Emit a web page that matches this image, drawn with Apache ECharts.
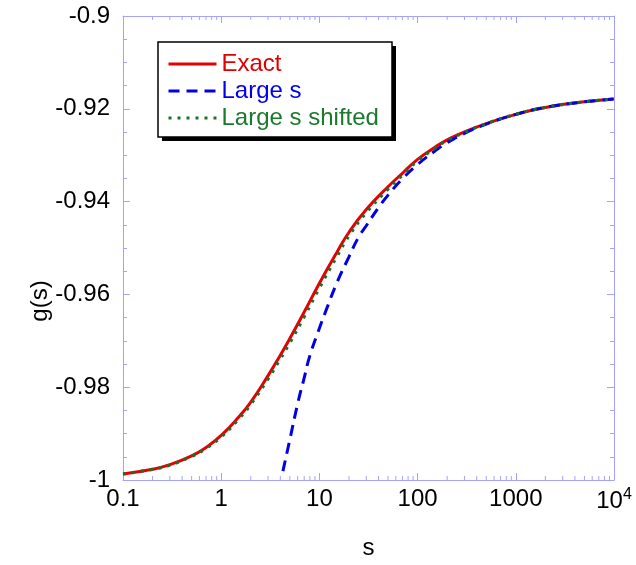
<!DOCTYPE html>
<html>
<head>
<meta charset="utf-8">
<script src="https://cdn.jsdelivr.net/npm/echarts@6/dist/echarts.min.js"></script>
<style>
  html, body { margin: 0; padding: 0; background: #ffffff; }
  #chart { width: 636px; height: 565px; }
</style>
</head>
<body>
<div id="chart"></div>
<script>
// Exact solution g(s)
const sExact = [0.1, 0.2, 0.3, 0.5, 0.7, 1, 1.5, 2, 3, 4, 5, 7, 10, 15, 20, 30, 50, 70, 100, 150, 200, 300, 500, 1000, 2000, 5000, 10000];
const gExact = [-0.9987, -0.9977, -0.9967, -0.9948, -0.9930, -0.9904, -0.9865, -0.9832, -0.9775, -0.9731, -0.9695, -0.9638, -0.9576, -0.9510, -0.9466, -0.9417, -0.9368, -0.9339, -0.9309, -0.9283, -0.9267, -0.9250, -0.9232, -0.9212, -0.9197, -0.9185, -0.9179];

// Large-s asymptotic expansion
const sLarge = [4.25, 5, 6, 7, 8, 10, 12, 15, 20, 25, 30, 40, 50, 70, 100, 150, 200, 300, 500, 1000, 2000, 5000, 10000];
const gLarge = [-0.9981, -0.9913, -0.9836, -0.9780, -0.9732, -0.9673, -0.9628, -0.9576, -0.9519, -0.9477, -0.9452, -0.9413, -0.9386, -0.9351, -0.9320, -0.9291, -0.9273, -0.9253, -0.9233, -0.9212, -0.9197, -0.9185, -0.9179];

// Large-s expansion, shifted
const sShift = [0.1, 0.2, 0.3, 0.5, 0.7, 1, 1.5, 2, 3, 4, 5, 7, 10, 15, 20, 30, 50, 70, 100, 150, 200, 300, 500, 1000, 2000, 5000, 10000];
const gShift = [-0.9987, -0.9977, -0.9968, -0.9949, -0.9932, -0.9907, -0.9869, -0.9837, -0.9782, -0.9739, -0.9704, -0.9648, -0.9586, -0.9519, -0.9474, -0.9424, -0.9373, -0.9343, -0.9312, -0.9285, -0.9268, -0.9251, -0.9232, -0.9212, -0.9197, -0.9185, -0.9179];

// Axis ticks
const xTickValues = [0.1, 1, 10, 100, 1000, 10000];
const xTickLabels = ['0.1', '1', '10', '100', '1000', '10{sup|4}'];
const yMin = -1, yMax = -0.9, yStep = 0.02;

const axisColor = '#a3a3ff';
const font = 'Liberation Sans, Arial, sans-serif';
const fontSize = 24;
const red = '#e80000', blue = '#0000e6', green = '#1c6f26';

// log-axis minor tick positions: 2..9 within each decade
const minorTicks = [];
for (let d = 0; d < xTickValues.length - 1; d++) {
  for (let m = 2; m <= 9; m++) minorTicks.push([xTickValues[d] * m, yMin]);
}

function pairs(xs, ys) { return xs.map((x, i) => [x, ys[i]]); }

function xLabel(v) {
  for (let i = 0; i < xTickValues.length; i++) {
    if (Math.abs(Math.log10(v) - Math.log10(xTickValues[i])) < 1e-6) return xTickLabels[i];
  }
  return '';
}

const chart = echarts.init(document.getElementById('chart'), null, { renderer: 'canvas' });

const xBase = {
  type: 'log', logBase: 10, min: 0.1, max: 10000,
  splitLine: { show: false },
  axisLine: { show: true, onZero: false, lineStyle: { color: axisColor, width: 1 } },
  axisTick: { show: true, inside: true, length: 7, lineStyle: { color: axisColor } },
  minorTick: { show: false }
};
const yBase = {
  type: 'value', min: yMin, max: yMax, interval: yStep,
  splitLine: { show: false },
  axisLine: { show: true, onZero: false, lineStyle: { color: axisColor, width: 1 } },
  axisTick: { show: true, inside: true, length: 7, lineStyle: { color: axisColor } },
  minorTick: { show: true, splitNumber: 4, length: 4, lineStyle: { color: axisColor } }
};

// legend frame with its drop shadow
const box = { x: 158, y: 42, w: 234, h: 95, shadow: 4 };

chart.setOption({
  backgroundColor: '#ffffff',
  animation: false,
  grid: { left: 123, right: 22, top: 16, bottom: 84, containLabel: false },
  xAxis: [
    Object.assign({}, xBase, {
      position: 'bottom',
      name: 's', nameLocation: 'middle', nameGap: 56,
      nameTextStyle: { fontSize: fontSize, color: '#000', fontFamily: font },
      axisLabel: {
        show: true, margin: 7, color: '#000', fontSize: fontSize, fontFamily: font,
        formatter: xLabel,
        rich: { sup: { fontSize: 16, fontFamily: font, color: '#000', padding: [0, 0, 12, 0] } }
      }
    }),
    Object.assign({}, xBase, { position: 'top', axisLabel: { show: false } })
  ],
  yAxis: [
    Object.assign({}, yBase, {
      position: 'left',
      axisLabel: {
        show: true, margin: 13, color: '#000', fontSize: fontSize, fontFamily: font,
        formatter: v => String(Number(v.toFixed(2)))
      }
    }),
    Object.assign({}, yBase, { position: 'right', axisLabel: { show: false } })
  ],
  legend: {
    left: box.x, top: box.y, orient: 'vertical',
    itemWidth: 48, itemHeight: 20, itemGap: 3,
    padding: [10, 10, 7, 9],
    backgroundColor: 'transparent', borderWidth: 0,
    itemStyle: { opacity: 0 },
    lineStyle: { width: 3 },
    textStyle: { fontSize: fontSize, fontFamily: font },
    z: 10,
    data: [
      { name: 'Exact', textStyle: { color: '#e00000' } },
      { name: 'Large s', textStyle: { color: '#0000ee' } },
      { name: 'Large s shifted', textStyle: { color: '#1a7a2c' } }
    ]
  },
  graphic: [
    {
      type: 'rect', z: 8,
      shape: { x: box.x + box.shadow, y: box.y + box.shadow, width: box.w, height: box.h },
      style: { fill: '#000000' }
    },
    {
      type: 'rect', z: 9,
      shape: { x: box.x, y: box.y, width: box.w, height: box.h },
      style: { fill: '#ffffff', stroke: '#000000', lineWidth: 1.5 }
    },
    {
      type: 'text', x: 40, y: 301, rotation: Math.PI / 2,
      style: { text: 'g(s)', fontSize: fontSize, fontFamily: font, fill: '#000', align: 'center', verticalAlign: 'middle' }
    }
  ],
  series: [
    {
      name: 'Exact', type: 'line', data: pairs(sExact, gExact),
      smooth: 0.5, symbol: 'none', clip: true,
      lineStyle: { color: red, width: 3 }, itemStyle: { color: red }
    },
    {
      name: 'Large s', type: 'line', data: pairs(sLarge, gLarge),
      smooth: 0.5, symbol: 'none', clip: true,
      lineStyle: { color: blue, width: 3, type: [11, 7] }, itemStyle: { color: blue }
    },
    {
      name: 'Large s shifted', type: 'line', data: pairs(sShift, gShift),
      smooth: 0.5, symbol: 'none', clip: true,
      lineStyle: { color: green, width: 3.2, type: [3, 6] }, itemStyle: { color: green }
    },
    {
      // minor ticks on the log axes (bottom and top)
      type: 'custom', silent: true, clip: false, data: minorTicks,
      encode: { x: 0, y: 1 },
      renderItem: function (params, api) {
        const v = api.value(0);
        const b = api.coord([v, yMin]);
        const t = api.coord([v, yMax]);
        const st = { stroke: axisColor, lineWidth: 1 };
        return {
          type: 'group',
          children: [
            { type: 'line', shape: { x1: b[0], y1: b[1], x2: b[0], y2: b[1] - 4 }, style: st },
            { type: 'line', shape: { x1: t[0], y1: t[1], x2: t[0], y2: t[1] + 4 }, style: st }
          ]
        };
      }
    }
  ]
});
</script>
</body>
</html>
